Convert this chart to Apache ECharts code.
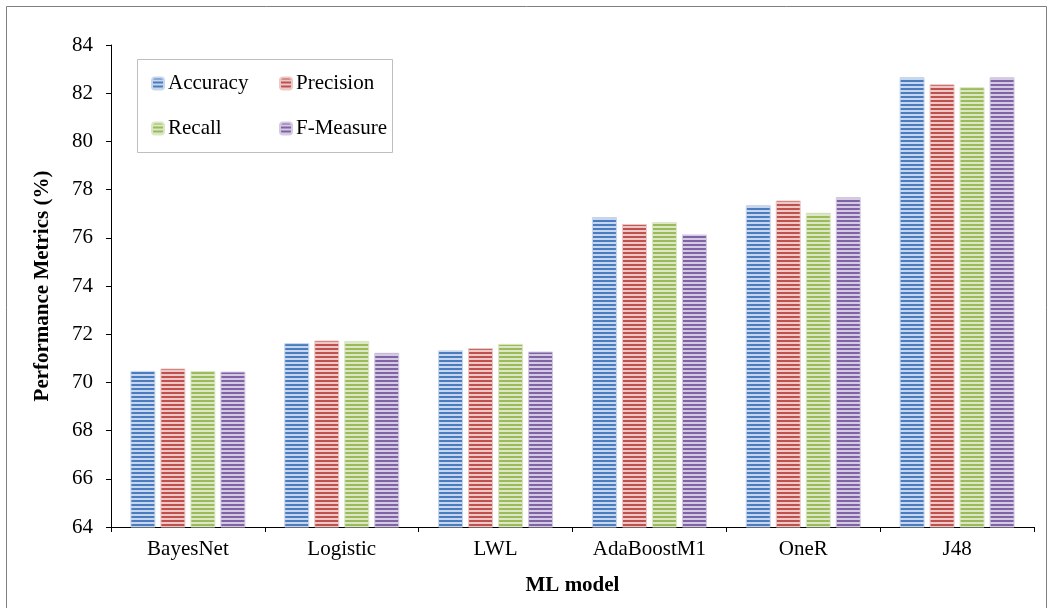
<!DOCTYPE html>
<html>
<head>
<meta charset="utf-8">
<script src="https://cdn.jsdelivr.net/npm/echarts@6/dist/echarts.min.js"></script>
<style>html,body{margin:0;padding:0;background:#fff}#c{width:1053px;height:608px}</style>
</head>
<body>
<div id="c"></div>
<script>
const categories = ['BayesNet', 'Logistic', 'LWL', 'AdaBoostM1', 'OneR', 'J48'];
const accuracy  = [70.48, 71.63, 71.33, 76.86, 77.35, 82.66];
const precision = [70.58, 71.74, 71.42, 76.57, 77.55, 82.37];
const recall    = [70.47, 71.72, 71.60, 76.65, 77.04, 82.25];
const fmeasure  = [70.45, 71.23, 71.28, 76.14, 77.69, 82.66];
const yTicks = [64, 66, 68, 70, 72, 74, 76, 78, 80, 82, 84];

const seriesNames = ['Accuracy', 'Precision', 'Recall', 'F-Measure'];
const seriesData = [accuracy, precision, recall, fmeasure];
const dark = ['#4a7cc0', '#c0504d', '#9bbb59', '#7f63a6'];
const light = ['#c7d6ec', '#ecc8c7', '#dbe7c6', '#d4cae2'];

function stripe(d, l) {
  const cv = document.createElement('canvas');
  cv.width = 4; cv.height = 4;
  const ctx = cv.getContext('2d');
  ctx.fillStyle = l; ctx.fillRect(0, 0, 4, 4);
  ctx.fillStyle = d; ctx.fillRect(0, 0, 4, 2);
  return { image: cv, repeat: 'repeat' };
}

const font = '"Liberation Serif", "Times New Roman", serif';
const chart = echarts.init(document.getElementById('c'));

const series = seriesNames.map((n, i) => ({
  name: n,
  type: 'bar',
  data: seriesData[i],
  barWidth: 25,
  barGap: '20%',
  itemStyle: { color: stripe(dark[i], light[i]), borderColor: light[i], borderWidth: 1 }
}));

const legendText = { fontFamily: font, fontSize: 21, color: '#000', padding: [0, 0, 0, -1] };

chart.setOption({
  animation: false,
  textStyle: { fontFamily: font },
  graphic: [
    { type: 'rect', shape: { x: 6.5, y: 6.5, width: 1040, height: 610 }, style: { fill: 'none', stroke: '#7f7f7f', lineWidth: 1 }, silent: true },
    { type: 'rect', shape: { x: 137.5, y: 59.5, width: 255, height: 93 }, style: { fill: '#fff', stroke: '#bfbfbf', lineWidth: 1 }, z: 1, silent: true }
  ],
  legend: [
    { data: ['Accuracy', 'Recall'], orient: 'vertical', left: 146, top: 68, itemWidth: 12, itemHeight: 12, itemGap: 24,
      textStyle: legendText, z: 5 },
    { data: ['Precision', 'F-Measure'], orient: 'vertical', left: 274, top: 68, itemWidth: 12, itemHeight: 12, itemGap: 24,
      textStyle: legendText, z: 5 }
  ],
  grid: { left: 111, right: 19, top: 45, bottom: 81, containLabel: false },
  xAxis: {
    type: 'category', data: categories,
    axisLine: { lineStyle: { color: '#000', width: 1 } },
    axisTick: { show: true, length: 5, lineStyle: { color: '#000' } },
    axisLabel: { fontFamily: font, fontSize: 21, color: '#000', margin: 12 },
    name: 'ML model', nameLocation: 'middle', nameGap: 48,
    nameTextStyle: { fontFamily: font, fontSize: 21, fontWeight: 'bold', color: '#000' }
  },
  yAxis: {
    type: 'value', min: 64, max: 84, interval: 2,
    axisLine: { show: true, lineStyle: { color: '#000', width: 1 } },
    axisTick: { show: true, length: 5, lineStyle: { color: '#000' } },
    splitLine: { show: false },
    axisLabel: { fontFamily: font, fontSize: 21, color: '#000', margin: 18,
      formatter: v => yTicks.includes(v) ? String(v) : '' },
    name: 'Performance Metrics (%)', nameLocation: 'middle', nameGap: 58,
    nameTextStyle: { fontFamily: font, fontSize: 21, fontWeight: 'bold', color: '#000' }
  },
  series: series
});
</script>
</body>
</html>
